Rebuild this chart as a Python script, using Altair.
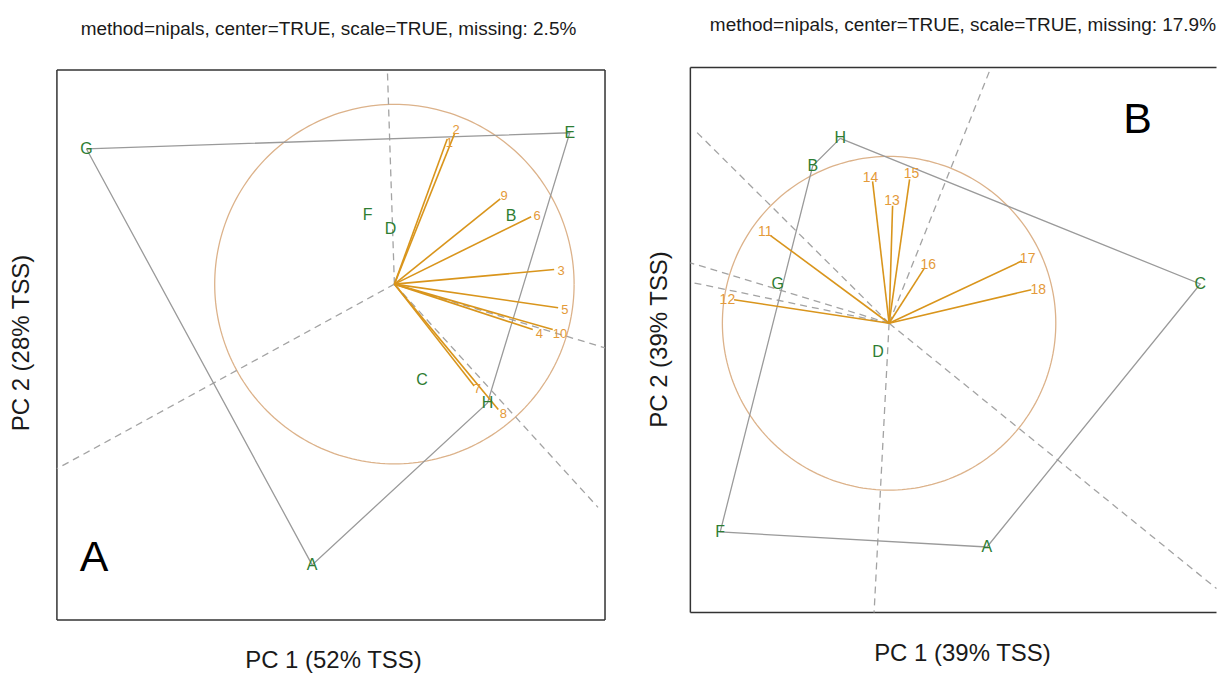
import numpy as np
import pandas as pd
import altair as alt

FONT = "Liberation Sans"
TAN = "#dcb28a"
ORANGE = "#d9951c"
ORANGE_TXT = "#e49a3a"
GREEN = "#2e7d32"
HULL = "#9a9a9a"
DASH = "#a3a3a3"
INK = "#1a1a1a"
FRAME = "#333333"

# ---------------- Panel A (units: correlation-circle radius) ----------------
a_title = "method=nipals, center=TRUE, scale=TRUE, missing: 2.5%"
a_xlab = "PC 1 (52% TSS)"
a_ylab = "PC 2 (28% TSS)"
a_xdom = [-1.878, 1.172]
a_ydom = [-1.869, 1.2056]          # view extent
a_box = [-1.878, 1.172, -1.869, 1.192]   # framed box: x0, x1, y0, y1
a_box_sides = ["left", "right", "top", "bottom"]

a_obs = ["G", "E", "F", "D", "B", "C", "H", "A"]
a_obs_x = [-1.714, 0.976, -0.149, -0.022, 0.649, 0.154, 0.518, -0.458]
a_obs_y = [0.753, 0.842, 0.383, 0.308, 0.377, -0.536, -0.661, -1.562]
a_hull = ["G", "E", "H", "A", "G"]

a_var = ["1", "2", "9", "6", "3", "5", "4", "10", "7", "8"]
a_var_x = [0.294, 0.336, 0.589, 0.761, 0.889, 0.911, 0.770, 0.881, 0.444, 0.578]
a_var_y = [0.808, 0.840, 0.475, 0.375, 0.081, -0.131, -0.253, -0.253, -0.567, -0.697]
a_lab_x = [0.306, 0.344, 0.611, 0.794, 0.928, 0.948, 0.806, 0.922, 0.461, 0.606]
a_lab_y = [0.786, 0.858, 0.492, 0.378, 0.075, -0.142, -0.275, -0.275, -0.586, -0.725]

a_ray_x = [-0.039, -1.878, 1.133, 1.172]
a_ray_y = [1.192, -1.027, -1.242, -0.355]

a_letter = "A"
a_letter_xy = [-1.672, -1.597]

# ---------------- Panel B ----------------
b_title = "method=nipals, center=TRUE, scale=TRUE, missing: 17.9%"
b_xlab = "PC 1 (39% TSS)"
b_ylab = "PC 2 (39% TSS)"
b_xdom = [-1.192, 1.964]
b_ydom = [-1.734, 1.533]
b_box = [-1.192, 1.964, -1.734, 1.533]
b_box_sides = ["left", "top", "bottom"]   # right side runs past the page edge

b_obs = ["H", "B", "G", "D", "C", "A", "F"]
b_obs_x = [-0.293, -0.458, -0.668, -0.066, 1.867, 0.587, -1.013]
b_obs_y = [1.108, 0.943, 0.237, -0.174, 0.235, -1.341, -1.251]
b_hull = ["H", "C", "A", "F", "B", "H"]

b_var = ["11", "12", "14", "13", "15", "16", "17", "18"]
b_var_x = [-0.713, -0.930, -0.099, 0.021, 0.123, 0.211, 0.798, 0.853]
b_var_y = [0.527, 0.141, 0.850, 0.704, 0.862, 0.329, 0.374, 0.201]
b_lab_x = [-0.743, -0.970, -0.111, 0.018, 0.135, 0.235, 0.831, 0.895]
b_lab_y = [0.544, 0.142, 0.870, 0.734, 0.892, 0.351, 0.384, 0.201]

b_ray_x = [0.611, -0.090, -1.153, 1.964, -1.192, -1.192]
b_ray_y = [1.533, -1.734, 1.144, -1.590, 0.362, 0.246]

b_letter = "B"
b_letter_xy = [1.491, 1.141]


def make_panel(obs, ox, oy, hull, var, vx, vy, lx, ly, rx, ry, xdom, ydom, box, sides,
               letter, letter_xy, w, h, title, title_off, title_dx,
               xlab, ylab, xpad, ypad, xtx, yty, var_fs, obs_fs):
    xs = alt.Scale(domain=xdom, nice=False, zero=False)
    ys = alt.Scale(domain=ydom, nice=False, zero=False)
    xaxis = alt.Axis(title=xlab, labels=False, ticks=False, domain=False, grid=False,
                     titleFontSize=24, titleFont=FONT, titleFontWeight="normal",
                     titleColor=INK, titlePadding=xpad, minExtent=0, titleX=xtx)
    yaxis = alt.Axis(title=ylab, labels=False, ticks=False, domain=False, grid=False,
                     titleFontSize=24, titleFont=FONT, titleFontWeight="normal",
                     titleColor=INK, titlePadding=ypad, minExtent=0, titleY=yty)

    def X(f):
        return alt.X(f, type="quantitative", scale=xs, axis=xaxis)

    def Y(f):
        return alt.Y(f, type="quantitative", scale=ys, axis=yaxis)

    x0, x1, y0, y1 = box
    seg = {"left": (x0, y0, x0, y1), "right": (x1, y0, x1, y1),
           "top": (x0, y1, x1, y1), "bottom": (x0, y0, x1, y0)}
    bdf = pd.DataFrame([seg[s] for s in sides], columns=["a", "b", "c", "d"])
    frame = alt.Chart(bdf).mark_rule(color=FRAME, strokeWidth=1.5).encode(
        x=X("a"), y=Y("b"), x2="c", y2="d")

    t = np.linspace(0, 2 * np.pi, 241)
    circ = pd.DataFrame({"x": np.cos(t), "y": np.sin(t), "o": np.arange(len(t))})
    circle = alt.Chart(circ).mark_line(color=TAN, strokeWidth=1.3).encode(
        x=X("x"), y=Y("y"), order="o:Q")

    rays = pd.DataFrame({"x0": [0.0] * len(rx), "y0": [0.0] * len(rx), "x1": rx, "y1": ry})
    ray = alt.Chart(rays).mark_rule(color=DASH, strokeWidth=1.3, strokeDash=[7, 5]).encode(
        x=X("x0"), y=Y("y0"), x2="x1", y2="y1")

    pos = dict(zip(obs, zip(ox, oy)))
    hdf = pd.DataFrame({"x": [pos[k][0] for k in hull], "y": [pos[k][1] for k in hull],
                        "o": list(range(len(hull)))})
    hl = alt.Chart(hdf).mark_line(color=HULL, strokeWidth=1.3).encode(
        x=X("x"), y=Y("y"), order="o:Q")

    vdf = pd.DataFrame({"v": var, "x0": [0.0] * len(var), "y0": [0.0] * len(var),
                        "x1": vx, "y1": vy, "lx": lx, "ly": ly})
    vec = alt.Chart(vdf).mark_rule(color=ORANGE, strokeWidth=1.6).encode(
        x=X("x0"), y=Y("y0"), x2="x1", y2="y1")
    vlab = alt.Chart(vdf).mark_text(color=ORANGE_TXT, fontSize=var_fs, font=FONT,
                                    align="center", baseline="middle").encode(
        x=X("lx"), y=Y("ly"), text="v:N")

    odf = pd.DataFrame({"n": obs, "x": ox, "y": oy})
    olab = alt.Chart(odf).mark_text(color=GREEN, fontSize=obs_fs, font=FONT,
                                    align="center", baseline="middle").encode(
        x=X("x"), y=Y("y"), text="n:N")

    ldf = pd.DataFrame({"t": [letter], "x": [letter_xy[0]], "y": [letter_xy[1]]})
    let = alt.Chart(ldf).mark_text(color="black", fontSize=43, font=FONT,
                                   align="center", baseline="alphabetic").encode(
        x=X("x"), y=Y("y"), text="t:N")

    return alt.layer(frame, circle, ray, hl, vec, vlab, olab, let).properties(
        width=w, height=h,
        title=alt.TitleParams(text=title, fontSize=19, font=FONT, fontWeight="normal",
                              color=INK, offset=title_off, baseline="alphabetic",
                              anchor="middle", dx=title_dx))


pa = make_panel(a_obs, a_obs_x, a_obs_y, a_hull, a_var, a_var_x, a_var_y, a_lab_x, a_lab_y,
                a_ray_x, a_ray_y, a_xdom, a_ydom, a_box, a_box_sides, a_letter, a_letter_xy,
                549, 553.5, a_title, 14, -2.5, a_xlab, a_ylab, 29, 23, 276.5, 275.5, 13, 16)
pb = make_panel(b_obs, b_obs_x, b_obs_y, b_hull, b_var, b_var_x, b_var_y, b_lab_x, b_lab_y,
                b_ray_x, b_ray_y, b_xdom, b_ydom, b_box, b_box_sides, b_letter, b_letter_xy,
                527, 546, b_title, 17, 9.5, b_xlab, b_ylab, 29, 19, 272, 272, 14, 16)

chart = alt.hconcat(pa, pb, spacing=41.5).properties(
    padding={"left": 2, "top": 7, "right": 0, "bottom": 0},
    background="white",
).configure_view(stroke="transparent", strokeWidth=0)

chart.save("out.html", embed_options={"renderer": "svg", "actions": False})
